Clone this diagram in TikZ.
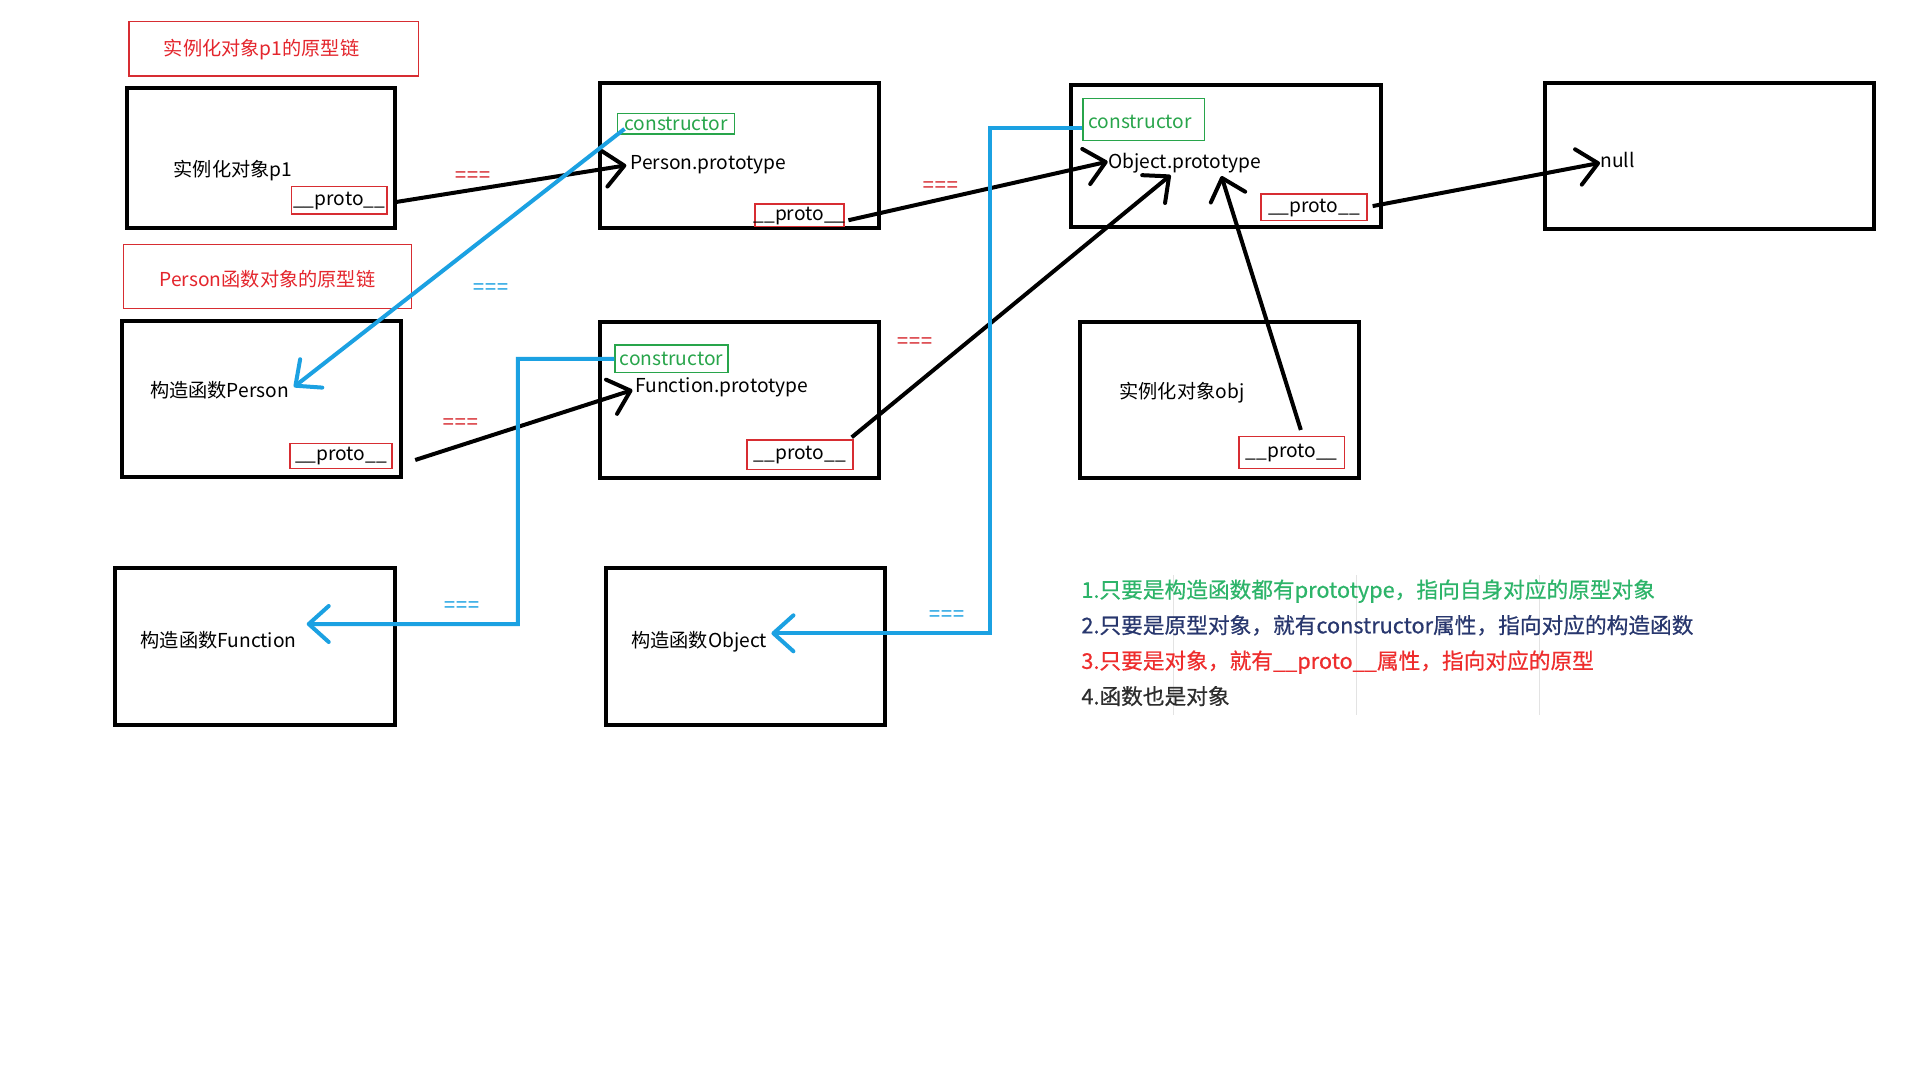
\documentclass[tikz,border=0pt]{standalone}
\usepackage{fontspec}
\newfontfamily\cjk{Noto Sans CJK SC}
\newfontfamily\notefont[FakeBold=0.6]{Noto Sans CJK SC}
\newfontfamily\eqfont{Liberation Mono}
\usetikzlibrary{arrows.meta,fit,calc}
\definecolor{boxred}{RGB}{215,45,50}
\definecolor{txtred}{RGB}{228,38,45}
\definecolor{ctorgreen}{RGB}{40,165,75}
\definecolor{lineblue}{RGB}{27,161,226}
\definecolor{notegreen}{RGB}{45,180,105}
\definecolor{notenavy}{RGB}{40,55,110}
\definecolor{notered}{RGB}{238,45,45}
\definecolor{notegray}{RGB}{45,45,45}
\begin{document}
\begin{tikzpicture}[x=0.6123pt,y=-0.6123pt,
  every node/.style={font=\cjk\fontsize{9.6}{11}\selectfont, inner sep=0pt, text height=0.85em, text depth=0.15em},
  blackbox/.style={draw=black, line width=2pt, inner sep=0pt},
  redbox/.style={draw=boxred, line width=0.7pt, inner sep=0pt},
  ctorbox/.style={draw=ctorgreen, line width=0.7pt, inner sep=0pt},
  titlebox/.style={draw=boxred, line width=0.7pt, inner sep=0pt},
  lbl/.style={anchor=west},
  ctortxt/.style={text=ctorgreen},
  titletxt/.style={text=txtred},
  eqsign/.style={font=\eqfont\fontsize{10}{10}\selectfont},
  eqred/.style={eqsign, text=boxred},
  eqblue/.style={eqsign, text=lineblue},
  link/.style={draw=black, line width=2pt, -{Straight Barb[length=10pt,width=18pt,round]}},
  ctorlink/.style={draw=lineblue, line width=2pt, -{Straight Barb[length=10pt,width=18pt,round]}},
  notes/.style={anchor=west, font=\notefont\fontsize{10.85}{12}\selectfont},
  faint/.style={draw=gray!22, line width=0.4pt}
]
\fill[white] (0,0) rectangle (1568,882);
\useasboundingbox (0,0) rectangle (1568,882);

% faint grid lines in notes area
\draw[faint] (958.4,469.6) -- (958.4,584);
\draw[faint] (1108,469.6) -- (1108,584);
\draw[faint] (1256.9,469.6) -- (1256.9,584);

% title boxes
\node[titlebox, fit={(105.4,17.7) (341.8,62)}] (t1) {};
\node[titletxt] (t1text) at ($(t1.center)+(-10,0)$) {实例化对象p1的原型链};
\node[titlebox, fit={(100.8,199.5) (336,251.8)}] (t2) {};
\node[titletxt] (t2text) at ($(t2.center)+(0,3)$) {Person函数对象的原型链};

% instance p1
\node[blackbox, fit={(104,72) (322.3,186.5)}] (p1) {};
\node[lbl] (p1text) at (141.5,138.8) {实例化对象p1};
\node[redbox, fit={(238,152.4) (316,174.8)}] (p1proto) {};
\node (p1protot) at ($(p1proto.center)+(0,-1.5)$) {\_\_proto\_\_};

% Person.prototype
\node[blackbox, fit={(490,68) (717.6,186.5)}] (pp) {};
\node[ctorbox, fit={(504.3,92.5) (599.8,109.4)}] (ppctor) {};
\node[ctortxt] (ppctort) at (ppctor.center) {constructor};
\node[lbl] (pptext) at (514.5,132.5) {Person.prototype};
\node[redbox, fit={(616.6,166.6) (689.3,185.1)}] (ppproto) {};
\node (ppprotot) at ($(ppproto.center)+(0,-1.5)$) {\_\_proto\_\_};

% Object.prototype
\node[blackbox, fit={(874.3,69.4) (1128,185.6)}] (op) {};
\node[ctorbox, fit={(884.3,80.3) (983.7,114.9)}] (opctor) {};
\node[ctortxt] (opctort) at ($(opctor.center)+(-3,1.5)$) {constructor};
\node[lbl] (optext) at (904.6,132) {Object.prototype};
\node[redbox, fit={(1029.8,158.4) (1116.4,180.2)}] (opproto) {};
\node (opprotot) at ($(opproto.center)+(0,-1.5)$) {\_\_proto\_\_};

% null
\node[blackbox, fit={(1262,68) (1530.5,187.3)}] (nullbox) {};
\node[lbl] (nulltext) at (1306.7,131) {null};

% constructor Person
\node[blackbox, fit={(100,261.9) (327.5,389.8)}] (personbox) {};
\node[lbl] (persontext) at (122.3,318.5) {构造函数Person};
\node[redbox, fit={(236.9,362) (320,382.5)}] (personproto) {};
\node (personprotot) at ($(personproto.center)+(0,-1.5)$) {\_\_proto\_\_};

% Function.prototype
\node[blackbox, fit={(490,262.7) (717.6,390.6)}] (fp) {};
\node[ctorbox, fit={(502.3,281.7) (594.6,304.4)}] (fpctor) {};
\node[ctortxt] (fpctort) at (fpctor.center) {constructor};
\node[lbl] (fptext) at (518.5,315.2) {Function.prototype};
\node[redbox, fit={(610,359.3) (696.5,383.3)}] (fpproto) {};
\node (fpprotot) at ($(fpproto.center)+(0,-1.5)$) {\_\_proto\_\_};

% instance obj
\node[blackbox, fit={(881.7,262.7) (1110,390.6)}] (objbox) {};
\node[lbl] (objtext) at (914,319.9) {实例化对象obj};
\node[redbox, fit={(1011.9,356.6) (1097.8,382.5)}] (objproto) {};
\node (objprotot) at ($(objproto.center)+(0,-1.5)$) {\_\_proto\_\_};

% constructor Function
\node[blackbox, fit={(94.3,464.1) (322.2,592.1)}] (fnbox) {};
\node[lbl] (fntext) at (114.5,522.7) {构造函数Function};

% constructor Object
\node[blackbox, fit={(495.1,464.1) (722.5,592.1)}] (ocbox) {};
\node[lbl] (octext) at (515.3,522.9) {构造函数Object};

% black __proto__ links
\draw[link] ($(p1proto.east)+(6,1.5)$) -- ($(pptext.west)+(-3,2.5)$);
\draw[link] ($(ppproto.east)+(3,4)$) -- (optext.west);
\draw[link] ($(opproto.east)+(4,-1)$) -- ($(nulltext.west)+(0,2)$);
\draw[link] ($(personproto.east)+(18.5,3.4)$) -- ($(fptext.west)+(-2,3.3)$);
\draw[link] ($(fpproto.north east)+(-1.5,-1.6)$) -- ($(optext.west)+(51.4,11)$);
\draw[link] ($(objproto.north)+(7.5,-4.9)$) -- ($(optext.west)+(92.9,11.8)$);

% blue constructor links
\coordinate (fncorner) at (423,509.6);
\coordinate (occorner) at (808.3,517.2);
\draw[ctorlink] ($(ppctor.south west)+(6.3,-4.7)$) -- ($(persontext.west)+(117.7,-2.5)$);
\draw[ctorlink] (fpctor.west) -| (fncorner) -- ($(fntext.west)+(136,-13.1)$);
\draw[ctorlink] ($(opctor.west)+(0,7.2)$) -| (occorner) -- ($(octext.west)+(114.7,-5.7)$);

% === labels
\node[eqred] (eq1) at (386,142.4) {===};
\node[eqred] (eq2) at (768,151) {===};
\node[eqblue] (eq3) at (400.6,234) {===};
\node[eqred] (eq4) at (376,344.4) {===};
\node[eqred] (eq5) at (747,278) {===};
\node[eqblue] (eq6) at (377,493.3) {===};
\node[eqblue] (eq7) at (773,501.4) {===};

% notes
\node[notes, text=notegreen] (n1) at (882.8,482.5) {1.只要是构造函数都有prototype，指向自身对应的原型对象};
\node[notes, text=notenavy] (n2) at (882.8,511.5) {2.只要是原型对象，就有constructor属性，指向对应的构造函数};
\node[notes, text=notered] (n3) at (882.8,540.5) {3.只要是对象，就有\_\_proto\_\_属性，指向对应的原型};
\node[notes, text=notegray] (n4) at (882.8,569.5) {4.函数也是对象};
\end{tikzpicture}
\end{document}
